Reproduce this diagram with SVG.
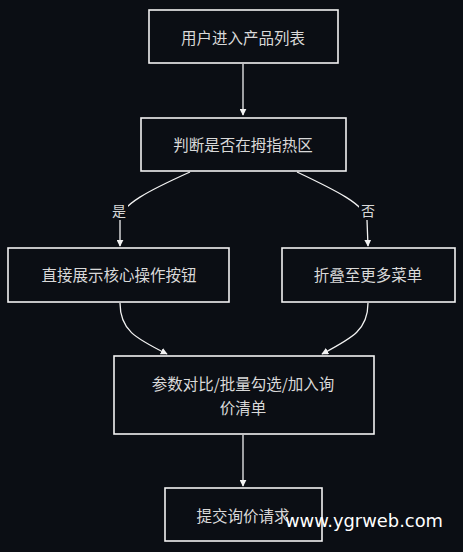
<svg xmlns="http://www.w3.org/2000/svg" width="463" height="552" viewBox="0 0 463 552">
<defs>
<style>
.box{fill:#0b0e14;stroke:#f2f2f2;stroke-width:1.6}
.t{font-family:"Noto Sans CJK SC","Liberation Sans",sans-serif;font-size:15.5px;fill:#d9d9d9;text-anchor:middle;dominant-baseline:central}
.e{fill:none;stroke:#f2f2f2;stroke-width:1.3}
.lbl{font-family:"Noto Sans CJK SC","Liberation Sans",sans-serif;font-size:14px;fill:#d9d9d9;text-anchor:middle;dominant-baseline:central}
</style>
<marker id="ah" viewBox="0 0 10 10" refX="9" refY="5" markerWidth="7" markerHeight="7" orient="auto-start-reverse" markerUnits="userSpaceOnUse">
<path d="M0,0 L10,5 L0,10 z" fill="#f2f2f2"/>
</marker>
</defs>
<rect width="463" height="552" fill="#0b0e14"/>
<g id="edges">
<path class="e" d="M243,64 L243,115" marker-end="url(#ah)"/>
<path class="e" d="M190,172 C150,190 120,205 120,220 L120,246" marker-end="url(#ah)"/>
<path class="e" d="M297,172 C335,190 366,205 367,220 L368,246" marker-end="url(#ah)"/>
<path class="e" d="M120,303 C120,330 135,338 167,354" marker-end="url(#ah)"/>
<path class="e" d="M368,303 C368,330 352,338 322,354" marker-end="url(#ah)"/>
<path class="e" d="M243,435 L243,486" marker-end="url(#ah)"/>
<rect x="110" y="200" width="18" height="20" fill="#0b0e14"/>
<text class="lbl" x="119" y="210">是</text>
<rect x="359" y="200" width="18" height="20" fill="#0b0e14"/>
<text class="lbl" x="368" y="210">否</text>
</g>
<g id="n1"><rect class="box" x="149" y="10" width="189" height="53"/><text class="t" x="243" y="37">用户进入产品列表</text></g>
<g id="n2"><rect class="box" x="141" y="118" width="205" height="53"/><text class="t" x="243" y="144">判断是否在拇指热区</text></g>
<g id="n3"><rect class="box" x="8" y="248" width="221" height="54"/><text class="t" x="119" y="274">直接展示核心操作按钮</text></g>
<g id="n4"><rect class="box" x="282" y="248" width="173" height="54"/><text class="t" x="368" y="274">折叠至更多菜单</text></g>
<g id="n5"><rect class="box" x="114" y="356" width="260" height="78"/><text class="t" x="243" y="383">参数对比/批量勾选/加入询</text><text class="t" x="243" y="407">价清单</text></g>
<g id="n6"><rect class="box" x="165" y="488" width="157" height="53"/><text class="t" x="243" y="515">提交询价请求</text></g>
<text x="285" y="527" font-family="DejaVu Sans, sans-serif" font-size="18" fill="#ffffff" textLength="158" lengthAdjust="spacingAndGlyphs">www.ygrweb.com</text>
</svg>
